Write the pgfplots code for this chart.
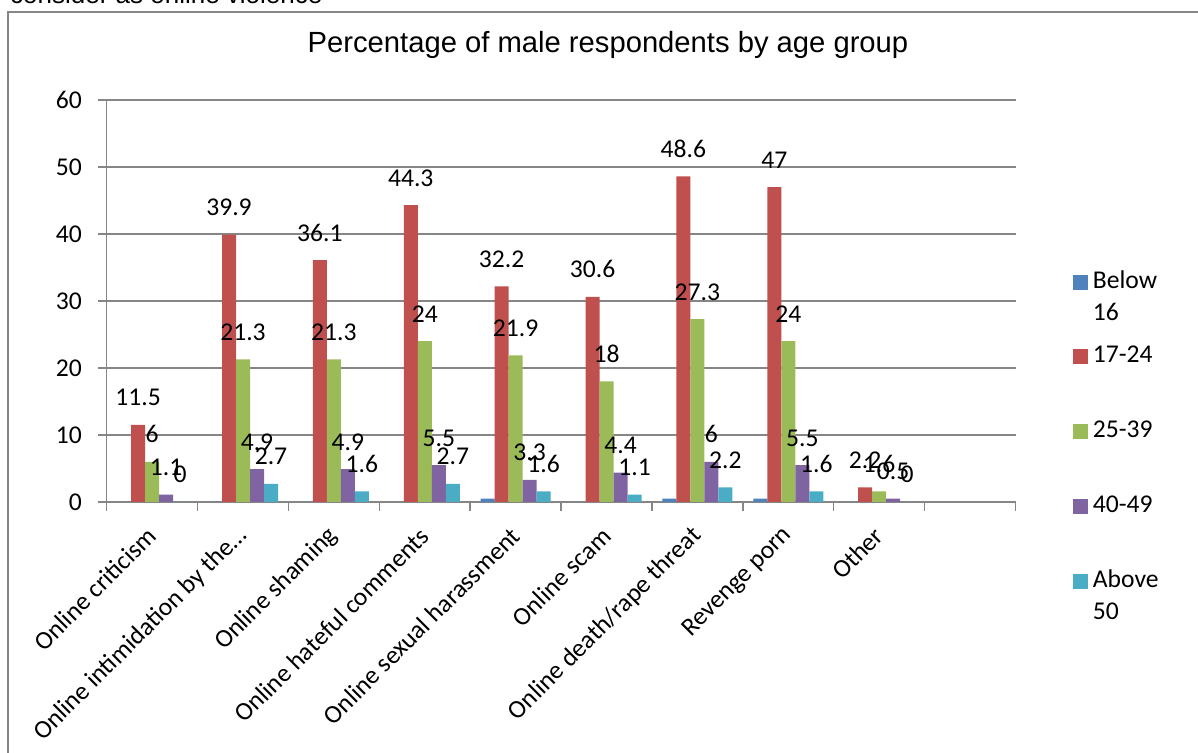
\documentclass[border=0pt]{standalone}
\usepackage{fontspec}
\setmainfont{Carlito}
\newfontfamily\arialfont{Liberation Sans}
\usepackage{pgfplots}
\pgfplotsset{compat=1.18}

\definecolor{sBlue}{HTML}{4F81BD}
\definecolor{sRed}{HTML}{C0504D}
\definecolor{sGreen}{HTML}{9BBB59}
\definecolor{sPurple}{HTML}{8064A2}
\definecolor{sCyan}{HTML}{4BACC6}
\definecolor{lineGray}{HTML}{868686}

\newcommand{\lblfont}{\fontsize{25.6bp}{32bp}\selectfont}
\newcommand{\twoline}[2]{\smash{\begin{tabular}[t]{@{}l@{}}#1\\#2\end{tabular}}}

\begin{document}
\begin{tikzpicture}[x=1bp,y=1bp]
\begin{axis}[
  name=ax,
  scale only axis, width=908.8bp, height=402bp,
  clip=false,
  ybar=0pt, bar width=14bp,
  xmin=-0.5, xmax=9.5, ymin=0, ymax=60,
  enlargelimits=false,
  axis lines*=left,
  axis line style={lineGray, line width=1.5bp},
  ymajorgrids=true,
  major grid style={lineGray, line width=1.5bp},
  tick align=outside,
  major tick length=8.7bp,
  minor tick length=9bp,
  ytick={0,10,...,60},
  ytick style={lineGray, line width=1.5bp},
  xtick={0,...,8},
  major x tick style={draw=none},
  minor xtick={-0.5,0.5,...,9.5},
  minor x tick style={lineGray, line width=1.5bp},
  xticklabels={Online criticism, Online intimidation by the…, Online shaming, Online hateful comments, Online sexual harassment, Online scam, Online death/rape threat, Revenge porn, Other},
  xticklabel style={rotate=45, anchor=east, inner sep=0pt, font=\lblfont},
  xticklabel shift=21bp,
  yticklabel style={font=\lblfont, inner sep=0pt},
  yticklabel shift=16bp,
  /pgf/number format/assume math mode=true,
  every node near coord/.append style={font=\lblfont, anchor=base, yshift=19bp, inner sep=0pt, text=black},
  title={Percentage of male respondents by age group},
  title style={at={(rel axis cs:0.5516,1.1045)}, anchor=base, inner sep=0pt,
    font=\arialfont\fontsize{29.2bp}{34bp}\selectfont},
  legend style={at={(rel axis cs:1.0629,0.595)}, anchor=north west,
    draw=none, fill=none, inner sep=0pt, row sep=41.8bp,
    nodes={inner sep=0pt, text height=25bp, text depth=8bp, font=\lblfont},
    /tikz/every odd column/.append style={column sep=5bp}},
  legend cell align=left,
  legend image code/.code={\fill[#1] (0bp,-10bp) rectangle (15bp,5bp);},
]
% Below 16
\addplot[fill=sBlue, draw=none] coordinates {(0,0) (1,0) (2,0) (3,0) (4,0.5) (5,0) (6,0.5) (7,0.5) (8,0)};
\addlegendentry{\twoline{Below}{16}}
% 17-24
\addplot[fill=sRed, draw=none, nodes near coords] coordinates {(0,11.5) (1,39.9) (2,36.1) (3,44.3) (4,32.2) (5,30.6) (6,48.6) (7,47) (8,2.2)};
\addlegendentry{17-24}
% 25-39
\addplot[fill=sGreen, draw=none, nodes near coords] coordinates {(0,6) (1,21.3) (2,21.3) (3,24) (4,21.9) (5,18) (6,27.3) (7,24) (8,1.6)};
\addlegendentry{25-39}
% 40-49
\addplot[fill=sPurple, draw=none, nodes near coords] coordinates {(0,1.1) (1,4.9) (2,4.9) (3,5.5) (4,3.3) (5,4.4) (6,6) (7,5.5) (8,0.5)};
\addlegendentry{40-49}
% Above 50
\addplot[fill=sCyan, draw=none, nodes near coords] coordinates {(0,0) (1,2.7) (2,1.6) (3,2.7) (4,1.6) (5,1.1) (6,2.2) (7,1.6) (8,0)};
\addlegendentry{\twoline{Above}{50}}
% page corners, measured from the plot area's lower left corner
\coordinate (pSW) at ([xshift=-106.7bp, yshift=-251bp]rel axis cs:0,0);
\end{axis}
% chart frame and the line of text above it
\begin{scope}[shift={(pSW)}]
\draw[lineGray, line width=2bp] (8,-20) rectangle (1230,741);
\node[anchor=base west, inner sep=0pt, font=\arialfont\fontsize{26bp}{30bp}\selectfont] at (10,749) {consider as online violence};
\pgfresetboundingbox
\useasboundingbox (0,0) rectangle (1198,753);
\end{scope}
\end{tikzpicture}
\end{document}
